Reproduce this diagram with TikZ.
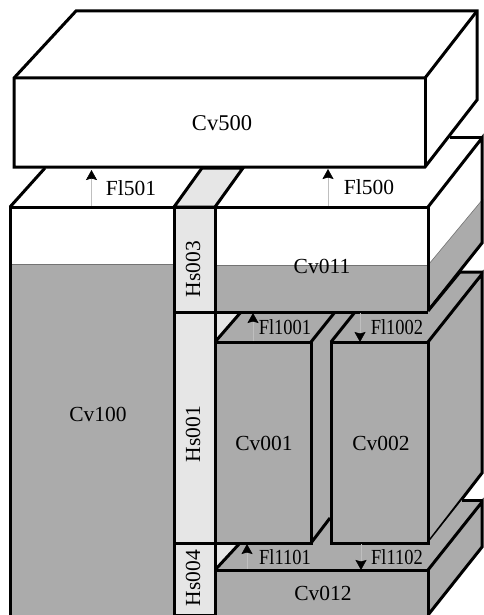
\documentclass[tikz,border=0pt]{standalone}
\usepackage{fontspec}
\setmainfont{Liberation Serif}
\usetikzlibrary{arrows.meta}
\definecolor{water}{HTML}{ABABAB}
\definecolor{wall}{HTML}{E6E6E6}
\tikzset{
  edge/.style={draw=black,line width=3pt,line join=miter},
  wet/.style={fill=water},
  heat/.style={fill=wall},
  lbl/.style={font=\fontsize{22.5}{25}\selectfont,inner sep=0pt,text=black},
  mid/.style={lbl,font=\fontsize{21.5}{24}\selectfont},
  small/.style={mid,xscale=0.86,transform shape},
  vlbl/.style={mid,rotate=90},
  flow/.style={draw=black!25,line width=0.6pt,-{Stealth[length=10pt,width=11pt,inset=1.5pt,black]}}
}
\begin{document}
\begin{tikzpicture}[x=1pt,y=-1pt]
\useasboundingbox (0,0) rectangle (483,615);
% lower box: top face and right face
\fill[water] (429,264) -- (483,199) -- (483,243) -- (428,311) -- cycle;
\draw[black!55,line width=0.6pt] (429,264) -- (483,199);
\draw[edge] (10,207) -- (45,168);
\draw[edge] (450,137) -- (483,137);
\draw[edge] (428,207) -- (482,138) -- (482,243) -- (428,311);
\draw[edge,heat] (174,207) -- (202,168) -- (243,168) -- (215,207) -- cycle;
% Cv500
\draw[edge,fill=white] (14,78) -- (76,11) -- (477,11) -- (477,100) -- (425,167) -- (14,167) -- cycle;
\draw[edge] (14,78) -- (425,78) -- (477,11);
\draw[edge] (425,78) -- (425,167);
% Cv100 and Cv011 fronts
\fill[white] (10,207) rectangle (428,312);
\fill[water] (10,264) rectangle (174,615);
\fill[water] (215,265) rectangle (428,311);
\draw[black!55,line width=0.6pt] (10,264) -- (174,264);
\draw[black!55,line width=0.6pt] (215,265) -- (428,265);
\draw[edge] (10,615) -- (10,207) -- (428,207) -- (428,311);
% upper plenum floor and Cv002 right face
\fill[water] (215,342) -- (241,312) -- (428,312) -- (461,272) -- (483,272) -- (483,473) -- (428,543) -- (428,342) -- cycle;
\fill[water] (311,342) rectangle (331,543);
\fill[wall] (215,312) -- (241,312) -- (215,342) -- cycle;
\draw[edge] (428,311) -- (460,272) -- (483,272);
\draw[edge] (215,342) -- (241,312);
\draw[edge] (311,342) -- (335,312);
\draw[edge] (331,342) -- (355,312);
\draw[edge] (428,342) -- (482,274) -- (482,473) -- (428,543);
% lower plenum
\fill[water] (215,570) -- (240,543) -- (428,543) -- (462,500) -- (483,500) -- (483,547) -- (428,615) -- (215,615) -- cycle;
\fill[wall] (215,543) -- (240,543) -- (215,570) -- cycle;
\draw[edge] (215,570) -- (240,543);
\draw[edge] (462,500) -- (483,500);
\draw[edge] (428,570) -- (482,502) -- (482,547) -- (428,615);
\draw[edge] (215,570) -- (428,570) -- (428,615);
% core channels
\draw[edge,wet] (215,342) rectangle (311,543);
\draw[edge,wet] (331,342) rectangle (428,543);
\draw[edge] (311,543) -- (330,518);
% heat structure column
\draw[edge,heat] (174,207) rectangle (215,312);
\draw[edge,heat] (174,312) rectangle (215,543);
\draw[edge,heat] (174,543) -- (215,543) -- (215,615) -- (174,615) -- cycle;
\draw[edge] (215,312) -- (428,312);
% flows
\coordinate (f501a) at (91.5,206); \coordinate (f501b) at (91.5,170);
\coordinate (f500a) at (328,206);  \coordinate (f500b) at (328,169);
\coordinate (f1001a) at (253,341); \coordinate (f1001b) at (253,313);
\coordinate (f1002a) at (360,313); \coordinate (f1002b) at (360,342);
\coordinate (f1101a) at (247,569); \coordinate (f1101b) at (247,544);
\coordinate (f1102a) at (361,544); \coordinate (f1102b) at (361,570);
\draw[flow] (f501a) -- (f501b);
\draw[flow] (f500a) -- (f500b);
\draw[flow] (f1001a) -- (f1001b);
\draw[flow] (f1002a) -- (f1002b);
\draw[flow] (f1101a) -- (f1101b);
\draw[flow] (f1102a) -- (f1102b);
% labels
\node[lbl] (cv500) at (222,123) {Cv500};
\node[mid] (fl501) at (131,188) {Fl501};
\node[mid] (fl500) at (369,187) {Fl500};
\node[mid] (cv011) at (322,266) {Cv011};
\node[mid] (cv100) at (98,414) {Cv100};
\node[mid] (cv001) at (264,443) {Cv001};
\node[mid] (cv002) at (381,443) {Cv002};
\node[small] (fl1001) at (285,327) {Fl1001};
\node[small] (fl1002) at (397,327) {Fl1002};
\node[small] (fl1101) at (285,557) {Fl1101};
\node[small] (fl1102) at (397,557) {Fl1102};
\node[mid] (cv012) at (323,593) {Cv012};
\node[vlbl] (hs003) at (193,269) {Hs003};
\node[vlbl] (hs001) at (193,434) {Hs001};
\node[vlbl] (hs004) at (193,578) {Hs004};
\end{tikzpicture}
\end{document}
